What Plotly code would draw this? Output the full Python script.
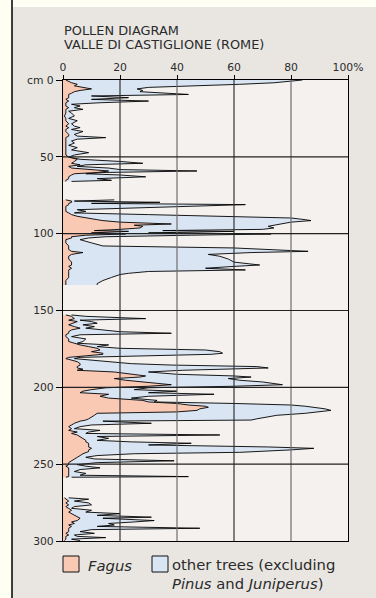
import plotly.graph_objects as go

# ---------------- data ----------------
depth_cm = [
    0.0, 0.8, 1.8, 2.8, 3.8, 4.8, 5.8, 6.8, 7.6, 8.6, 9.4, 10.4, 11.5, 12.6, 13.7, 14.8,
    15.8, 16.9, 18.0, 19.1, 20.3, 21.5, 23.4, 25.0, 26.5, 28.5, 30.0, 31.0, 32.2, 33.5,
    35.4, 36.5, 37.5, 38.5, 39.7, 41.0, 42.5, 44.0, 45.5, 47.3, 48.8, 50.2, 51.6, 53.0,
    54.2, 55.2, 56.2, 57.3, 58.3, 59.2, 60.2, 61.0, 61.8, 63.0, 64.2, 65.3, 66.0,
    78.0, 78.8, 79.6, 80.3, 81.1, 82.2, 83.3, 84.4, 85.5, 86.5, 87.6, 88.7, 89.8, 90.9,
    91.5, 92.5, 93.7, 94.5, 95.2, 96.3, 97.2, 98.0, 98.5, 99.5, 100.2, 101.0, 102.0,
    102.8, 103.9, 106.0, 108.0, 109.3, 110.3, 111.5, 112.3, 113.5, 114.7, 116.5, 118.5,
    120.4, 121.3, 122.5, 123.6, 124.6, 125.8, 126.6, 128.5, 130.5, 132.5, 133.4,
    152.9, 153.8, 155.3, 156.3, 157.2, 158.3, 159.3, 160.5, 161.5, 162.6, 163.8, 164.8,
    165.8, 167.0, 168.5, 170.2, 171.3, 172.4, 173.5, 174.6, 175.7, 176.8, 177.8, 178.5,
    179.5, 180.5, 181.3, 182.2, 183.3, 184.6, 185.5, 186.5, 187.4, 188.2, 188.9, 190.0,
    191.5, 192.6, 193.3, 194.3, 195.4, 196.5, 197.5, 198.3, 199.3, 200.3, 201.5, 202.5,
    203.5, 204.5, 205.8, 207.0, 208.5, 209.5, 210.5, 211.5, 212.3, 213.0, 214.0, 215.0,
    216.0, 216.9, 218.2, 219.5, 220.5, 221.3, 222.0, 223.4, 224.5, 225.6, 226.9, 228.0,
    229.1, 230.0, 231.0, 232.0, 233.2, 234.5, 235.5, 236.4, 237.5, 238.8, 239.7, 240.7,
    241.8, 242.3, 243.2, 244.4, 245.5, 246.6, 247.8, 249.0, 250.3, 251.3, 252.4, 253.5,
    254.8, 256.0, 257.2, 258.1, 258.5,
    271.9, 272.8, 274.0, 275.2, 276.5, 277.6, 278.7, 280.0, 281.2, 282.2, 283.3, 284.5,
    285.2, 286.7, 287.6, 288.6, 289.6, 290.5, 291.7, 292.6, 293.9, 295.0, 296.1, 297.0,
    297.8, 298.8, 299.7,
]

fagus_pct = [
    1, 2, 3, 5, 4, 7, 10, 6, 4, 3, 2, 2, 2, 1, 2, 1,
    1, 1, 2, 1, 1, 1, 0.5, 1, 1, 2, 1, 2, 1, 1,
    2, 2, 1, 1, 1, 1, 1, 1, 1, 1, 1, 2, 5, 4,
    3, 6, 2, 3, 10, 16, 12, 4, 3, 2, 2, 1, 1,
    1, 3, 3, 2, 2, 1, 1, 1, 1, 2, 3, 5, 8, 12,
    14, 20, 38, 25, 28, 27, 20, 11, 23, 10, 22, 8, 3,
    3, 1, 1, 2, 2, 2, 3, 7, 3, 2, 2, 3,
    3, 2, 3, 2, 2, 2, 2, 2, 1, 1, 1,
    1, 3, 4, 2, 5, 3, 2, 4, 6, 3, 2, 2,
    1, 1, 2, 2, 4, 6, 9, 12, 13, 10, 14, 14,
    8, 2, 1, 3, 5, 6, 6, 5, 5, 7, 5, 18,
    24, 29, 27, 18, 22, 28, 34, 38, 30, 15, 10, 7,
    6, 16, 13, 16, 28, 30, 40, 44, 50, 51, 48, 47,
    40, 12, 11, 10, 9, 8, 6, 4, 3, 2, 3, 2,
    5, 3, 5, 6, 7, 8, 8, 9, 9, 9, 10, 9,
    9, 8, 7, 6, 5, 4, 3, 2, 2, 1, 2, 2,
    2, 2, 2, 2, 1,
    0.5, 1, 2, 1, 2, 1, 2, 3, 2, 3, 4, 5,
    6, 5, 3, 4, 2, 3, 2, 2, 2, 1, 2, 1,
    1, 1, 0.5,
]

other_trees_pct = [
    83, 77, 71, 57, 41, 23, 16, 22, 23, 33, 42, 8, 21, 9, 28, 12,
    2, 5, 2, 6, 1, 2, 3.5, 1, 4, 1, 3, 4, 2, 6,
    2, 3, 14, 4, 2, 3, 1, 4, 2, 8, 3, 0, 1, 16,
    25, 2, 3, 13, 10, 31, 2, 4, 17, 27, 10, 16, 2,
    17, 1, 31, 8, 62, 44, 19, 4, 7, 2, 27, 55, 72, 73,
    73, 60, 38, 49, 44, 47, 50, 24, 37, 20, 51, 37, 12,
    6, 5, 9, 12, 58, 70, 83, 59, 48, 53, 56, 57,
    66, 58, 47, 62, 28, 21, 18, 15, 13, 11, 11,
    2, 5, 25, 4, 5, 9, 5, 7, 2, 12, 18, 36,
    5, 2, 6, 5, 1, 10, 3, 8, 37, 45, 42, 38,
    22, 4, 3, 7, 11, 18, 32, 63, 67, 48, 37, 12,
    16, 31, 39, 40, 40, 42, 41, 39, 30, 15, 15, 33,
    24, 37, 17, 8, 5, 2, 20, 36, 35, 37, 44, 47,
    50, 73, 64, 60, 59, 58, 8, 27, 7, 4, 1, 11,
    4, 5, 50, 6, 9, 4, 16, 36, 21, 63, 78, 71,
    61, 54, 18, 6, 3, 7, 36, 10, 3, 7, 11, 4,
    2, 6, 4, 42, 2,
    1.5, 8, 2, 8, 8, 3, 1, 7, 6, 17, 8, 26,
    8, 27, 22, 12, 16, 9, 46, 8, 4, 10, 2, 4,
    14, 2, 5.5,
]

x_tick_vals = [0, 20, 40, 60, 80, 100]
x_tick_text = ["0", "20", "40", "60", "80", "100%"]
y_tick_vals = [0, 50, 100, 150, 200, 250, 300]
y_tick_text = ["cm 0", "50", "100", "150", "200", "250", "300"]

title_lines = ["POLLEN DIAGRAM", "VALLE DI CASTIGLIONE (ROME)"]
series_names = ["<i>Fagus</i>", "other trees (excluding<br><i>Pinus</i> and <i>Juniperus</i>)"]

# ---------------- style ----------------
W, H = 376, 598
ML, MR, MT, MB = 63, 28, 80, 57
PW, PH = W - ML - MR, H - MT - MB
PINK = "#fac9b4"
BLUE = "#dae5f4"
PANEL = "#e9e6e2"
PLOTBG = "#f4f1ef"
IVORY = "#fefef3"
TXT = "#2b2b2b"
FONT = "DejaVu Sans, Verdana, sans-serif"


def px_x(px):
    return (px - ML) / PW


def px_y(py):
    return (H - MB - py) / PH


# split the core into sampled sections (gaps = no samples)
segments = []
start = 0
for i in range(1, len(depth_cm)):
    if depth_cm[i] - depth_cm[i - 1] > 6:
        segments.append((start, i))
        start = i
segments.append((start, len(depth_cm)))

fig = go.Figure()
for s, e in segments:
    d = depth_cm[s:e]
    f = fagus_pct[s:e]
    tot = [a + b for a, b in zip(f, other_trees_pct[s:e])]
    fig.add_trace(go.Scatter(x=tot, y=d, mode="lines", fill="tozerox", fillcolor=BLUE,
                             line=dict(color="black", width=0.9), showlegend=False,
                             name="other trees", hoverinfo="skip"))
    fig.add_trace(go.Scatter(x=f, y=d, mode="lines", fill="tozerox", fillcolor=PINK,
                             line=dict(color="black", width=0.9), showlegend=False,
                             name="Fagus", hoverinfo="skip"))

shapes = [
    # panel background
    dict(type="rect", xref="paper", yref="paper", x0=px_x(12), x1=px_x(W + 5),
         y0=px_y(H + 5), y1=px_y(7), fillcolor=PANEL, line=dict(width=0), layer="below"),
    # plot area background
    dict(type="rect", xref="x", yref="y", x0=0, x1=100, y0=0, y1=300,
         fillcolor=PLOTBG, line=dict(width=0), layer="below"),
    # left black rule
    dict(type="line", xref="paper", yref="paper", x0=px_x(12), x1=px_x(12),
         y0=px_y(H + 2), y1=px_y(-2), line=dict(color="black", width=1.5)),
]
for k, v in enumerate(x_tick_vals[1:-1]):
    shapes.append(dict(type="line", xref="x", yref="y", x0=v, x1=v, y0=0, y1=300,
                       line=dict(color="#333333" if k % 2 == 0 else "#6e6e6e", width=1.2),
                       layer="above"))
for v in y_tick_vals[1:-1]:
    shapes.append(dict(type="line", xref="x", yref="y", x0=0, x1=100, y0=v, y1=v,
                       line=dict(color="#222222", width=1.2), layer="above"))
# legend swatches
for x0, col in [(63, PINK), (152, BLUE)]:
    shapes.append(dict(type="rect", xref="paper", yref="paper", x0=px_x(x0), x1=px_x(x0 + 16),
                       y0=px_y(572), y1=px_y(556), fillcolor=col,
                       line=dict(color="#111111", width=1)))

annotations = [
    dict(text=title_lines[0], xref="paper", yref="paper", x=px_x(62), y=px_y(31),
         xanchor="left", yanchor="middle", showarrow=False,
         font=dict(family=FONT, size=12.9, color=TXT)),
    dict(text=title_lines[1], xref="paper", yref="paper", x=px_x(62), y=px_y(44),
         xanchor="left", yanchor="middle", showarrow=False,
         font=dict(family=FONT, size=12.9, color=TXT)),
    dict(text=series_names[0], xref="paper", yref="paper", x=px_x(86), y=px_y(565),
         xanchor="left", yanchor="middle", showarrow=False,
         font=dict(family=FONT, size=14.8, color=TXT)),
    dict(text=series_names[1], xref="paper", yref="paper", x=px_x(170), y=px_y(574),
         xanchor="left", yanchor="middle", align="left", showarrow=False,
         font=dict(family=FONT, size=14.8, color=TXT)),
]

fig.update_layout(
    width=W, height=H,
    margin=dict(l=ML, r=MR, t=MT, b=MB, pad=0),
    paper_bgcolor=IVORY, plot_bgcolor="rgba(0,0,0,0)",
    showlegend=False,
    shapes=shapes, annotations=annotations,
    xaxis=dict(range=[0, 100], side="top", tickvals=x_tick_vals, ticktext=x_tick_text,
               showgrid=False, zeroline=False, showline=True, mirror=True,
               linecolor="black", linewidth=1.2, ticks="outside", ticklen=4,
               tickcolor="black", tickfont=dict(family=FONT, size=10.8, color=TXT),
               layer="above traces", fixedrange=True),
    yaxis=dict(range=[300, 0], tickvals=y_tick_vals, ticktext=y_tick_text,
               showgrid=False, zeroline=False, showline=True, mirror=True,
               linecolor="black", linewidth=1.2, ticks="outside", ticklen=6,
               tickcolor="black", tickfont=dict(family=FONT, size=10.8, color=TXT),
               layer="above traces", fixedrange=True),
)

fig.write_html(
    "out.html",
    config={"displayModeBar": False},
    post_script="document.body.style.margin='0';document.body.style.background='#fefef3';",
)
